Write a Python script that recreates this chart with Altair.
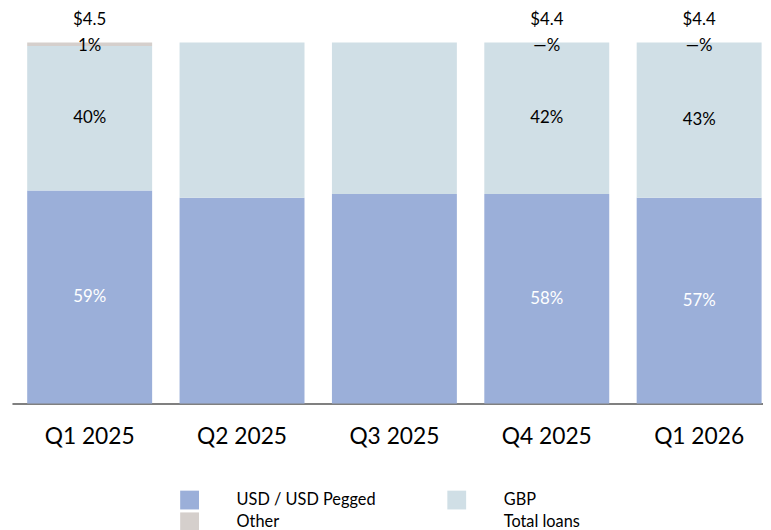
import altair as alt
import pandas as pd

quarters = ["Q1 2025", "Q2 2025", "Q3 2025", "Q4 2025", "Q1 2026"]
usd = [59, 57, 58, 58, 57]
gbp = [40, 43, 42, 42, 43]
other = [1, 0, 0, 0, 0]
usd_labels = ["59%", "", "", "58%", "57%"]
gbp_labels = ["40%", "", "", "42%", "43%"]
other_labels = ["1%", "", "", "—%", "—%"]
total_labels = ["$4.5", "", "", "$4.4", "$4.4"]
series = ["USD / USD Pegged", "GBP", "Other"]
legend_items = ["USD / USD Pegged", "GBP", "Other", "Total loans"]
colors = ["#9BAFD9", "#D0DFE6", "#D5CFCC", "rgba(0,0,0,0)"]

rows = []
for i, q in enumerate(quarters):
    for j, (s, vals, labs) in enumerate(zip(series, [usd, gbp, other], [usd_labels, gbp_labels, other_labels])):
        rows.append({"quarter": q, "series": s, "value": vals[i], "ord": j, "label": labs[i]})
long = pd.DataFrame(rows)

tops = pd.DataFrame({
    "quarter": quarters,
    "total_label": total_labels,
    "other_label": other_labels,
    "top": [u + g + o for u, g, o in zip(usd, gbp, other)],
})

FONT = "Lato"
xscale = alt.Scale(range=[0, 773], paddingInner=0.18, paddingOuter=0.1)
yscale = alt.Scale(domain=[0, 100])
X = alt.X("quarter:N", sort=quarters, scale=xscale, title=None,
          axis=alt.Axis(labelAngle=0, ticks=False, labelFontSize=23, labelFont=FONT,
                        labelColor="#000000", labelPadding=22, domainColor="#808080",
                        domainWidth=2, grid=False))

bars = alt.Chart(long).mark_bar().encode(
    x=X,
    y=alt.Y("value:Q", stack="zero", scale=yscale, axis=None),
    color=alt.Color("series:N", scale=alt.Scale(domain=legend_items, range=colors),
                    legend=alt.Legend(title=None, orient="none", legendX=170, legendY=453,
                                      direction="horizontal", columns=2,
                                      symbolType="square", symbolSize=361,
                                      symbolStrokeWidth=0, labelOffset=38, labelFontSize=16.5,
                                      labelFont=FONT, labelColor="#000000", columnPadding=72,
                                      rowPadding=3, labelLimit=400, padding=0)),
    order=alt.Order("ord:Q", sort="ascending"),
)

mids = alt.Chart(long).transform_stack(
    stack="value", groupby=["quarter"], as_=["v0", "v1"],
    sort=[alt.SortField("ord", "ascending")]
).transform_calculate(mid="(datum.v0 + datum.v1) / 2")

usd_text = mids.transform_filter("datum.series == 'USD / USD Pegged'").mark_text(
    color="white", fontSize=17, font=FONT, baseline="middle"
).encode(x=alt.X("quarter:N", sort=quarters), y=alt.Y("mid:Q", scale=yscale), text="label:N")

gbp_text = mids.transform_filter("datum.series == 'GBP'").mark_text(
    color="#000000", fontSize=17, font=FONT, baseline="middle"
).encode(x=alt.X("quarter:N", sort=quarters), y=alt.Y("mid:Q", scale=yscale), text="label:N")

other_text = alt.Chart(tops).mark_text(
    color="#000000", fontSize=17, font=FONT, baseline="middle", dy=4
).encode(x=alt.X("quarter:N", sort=quarters), y=alt.Y("top:Q", scale=yscale), text="other_label:N")

total_text = alt.Chart(tops).mark_text(
    color="#000000", fontSize=17, font=FONT, baseline="middle", dy=-23
).encode(x=alt.X("quarter:N", sort=quarters), y=alt.Y("top:Q", scale=yscale), text="total_label:N")

chart = alt.layer(bars, usd_text, gbp_text, other_text, total_text).properties(
    width=759, height=365,
    autosize=alt.AutoSizeParams(type="none"),
    padding={"left": 4, "top": 32, "right": 0, "bottom": 125},
).configure_view(stroke=None)

chart.save("out.html", embed_options={"renderer": "svg", "actions": False})
